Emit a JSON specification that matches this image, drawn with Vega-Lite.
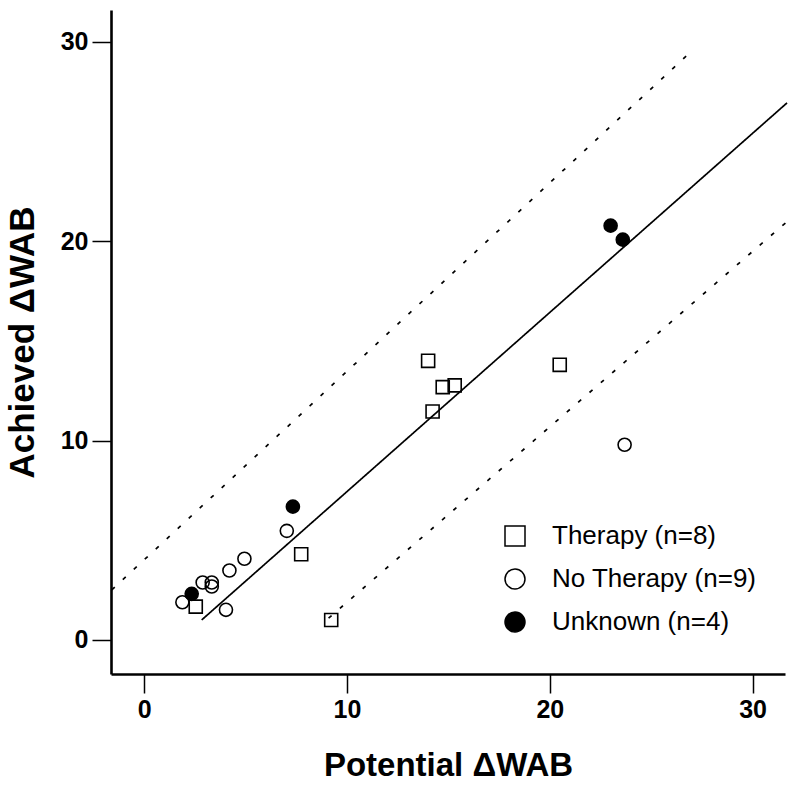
{
  "$schema": "https://vega.github.io/schema/vega-lite/v6.json",
  "autosize": {"type": "none"},
  "width": 674,
  "height": 664,
  "padding": {"left": 111, "top": 10, "right": 15, "bottom": 113},
  "background": "white",
  "config": {
    "view": {"stroke": null},
    "font": "Liberation Sans",
    "axis": {
      "grid": false,
      "domainColor": "black",
      "domainWidth": 2.6,
      "tickColor": "black",
      "tickWidth": 1.5,
      "tickSize": 19,
      "labelColor": "black",
      "labelFont": "Liberation Sans",
      "labelFontWeight": "bold",
      "labelFontSize": 25,
      "labelPadding": 4,
      "titleColor": "black",
      "titleFont": "Liberation Sans",
      "titleFontWeight": "bold"
    }
  },
  "datasets": {
    "points": [
      {"potential": 2.54, "achieved": 1.67, "group": "Therapy (n=8)"},
      {"potential": 7.74, "achieved": 4.3, "group": "Therapy (n=8)"},
      {"potential": 9.22, "achieved": 1.0, "group": "Therapy (n=8)"},
      {"potential": 14.0, "achieved": 14.0, "group": "Therapy (n=8)"},
      {"potential": 14.72, "achieved": 12.68, "group": "Therapy (n=8)"},
      {"potential": 15.31, "achieved": 12.77, "group": "Therapy (n=8)"},
      {"potential": 14.22, "achieved": 11.46, "group": "Therapy (n=8)"},
      {"potential": 20.49, "achieved": 13.8, "group": "Therapy (n=8)"},
      {"potential": 1.88, "achieved": 1.89, "group": "No Therapy (n=9)"},
      {"potential": 2.88, "achieved": 2.88, "group": "No Therapy (n=9)"},
      {"potential": 3.33, "achieved": 2.88, "group": "No Therapy (n=9)"},
      {"potential": 3.33, "achieved": 2.68, "group": "No Therapy (n=9)"},
      {"potential": 4.03, "achieved": 1.51, "group": "No Therapy (n=9)"},
      {"potential": 4.2, "achieved": 3.48, "group": "No Therapy (n=9)"},
      {"potential": 4.94, "achieved": 4.07, "group": "No Therapy (n=9)"},
      {"potential": 7.03, "achieved": 5.47, "group": "No Therapy (n=9)"},
      {"potential": 23.69, "achieved": 9.79, "group": "No Therapy (n=9)"},
      {"potential": 2.34, "achieved": 2.31, "group": "Unknown (n=4)"},
      {"potential": 7.33, "achieved": 6.69, "group": "Unknown (n=4)"},
      {"potential": 23.0, "achieved": 20.78, "group": "Unknown (n=4)"},
      {"potential": 23.6, "achieved": 20.08, "group": "Unknown (n=4)"}
    ],
    "lines": [
      {"line": "fit", "style": "solid", "potential": 2.83, "achieved": 1.0},
      {"line": "fit", "style": "solid", "potential": 31.7, "achieved": 26.94},
      {"line": "upper", "style": "dashed", "potential": -1.6, "achieved": 2.51},
      {"line": "upper", "style": "dashed", "potential": 27.08, "achieved": 29.62},
      {"line": "lower", "style": "dashed", "potential": 9.09, "achieved": 1.09},
      {"line": "lower", "style": "dashed", "potential": 31.72, "achieved": 21.0}
    ]
  },
  "layer": [
    {
      "data": {"name": "lines"},
      "mark": {"type": "line", "color": "black", "strokeWidth": 1.7},
      "encoding": {
        "x": {"field": "potential", "type": "quantitative"},
        "y": {"field": "achieved", "type": "quantitative"},
        "detail": {"field": "line"},
        "strokeDash": {"field": "style", "type": "nominal", "scale": {"domain": ["solid", "dashed"], "range": [[1, 0], [4, 11]]}, "legend": null}
      }
    },
    {
      "data": {"name": "points"},
      "mark": {"type": "point", "filled": false, "size": 170, "strokeWidth": 1.6, "stroke": "black", "opacity": 1},
      "encoding": {
        "x": {
          "field": "potential", "type": "quantitative",
          "scale": {"domain": [-1.64, 31.6], "nice": false, "zero": false},
          "axis": {"values": [0, 10, 20, 30], "title": "Potential ΔWAB", "titleFontSize": 33, "titlePadding": 27}
        },
        "y": {
          "field": "achieved", "type": "quantitative",
          "scale": {"domain": [-1.71, 31.6], "nice": false, "zero": false},
          "axis": {"values": [0, 10, 20, 30], "title": "Achieved ΔWAB", "titleFontSize": 35, "titlePadding": 20}
        },
        "shape": {
          "field": "group", "type": "nominal",
          "scale": {"domain": ["Therapy (n=8)", "No Therapy (n=9)", "Unknown (n=4)"], "range": ["square", "circle", "circle"]},
          "legend": {
            "title": null, "orient": "none", "legendX": 391, "legendY": 513,
            "symbolSize": 400, "labelLimit": 0,
            "labelFont": "Liberation Sans", "labelFontSize": 26, "labelColor": "black",
            "labelOffset": 24, "rowPadding": 17,
            "encode": {"symbols": {"update": {"stroke": {"value": "black"}, "strokeWidth": {"value": 2}}}}
          }
        },
        "fill": {
          "field": "group", "type": "nominal",
          "scale": {"domain": ["Therapy (n=8)", "No Therapy (n=9)", "Unknown (n=4)"], "range": ["transparent", "transparent", "black"]},
          "legend": {
            "title": null, "orient": "none", "legendX": 391, "legendY": 513,
            "symbolSize": 400, "labelLimit": 0,
            "labelFont": "Liberation Sans", "labelFontSize": 26, "labelColor": "black",
            "labelOffset": 24, "rowPadding": 17,
            "encode": {"symbols": {"update": {"stroke": {"value": "black"}, "strokeWidth": {"value": 2}}}}
          }
        }
      }
    }
  ]
}
